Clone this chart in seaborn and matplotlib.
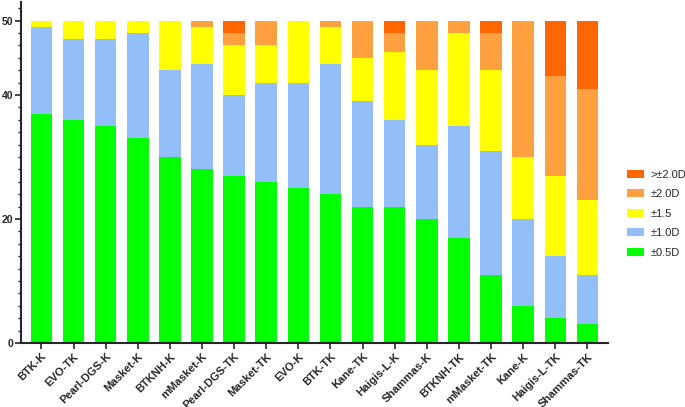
import pandas as pd
import numpy as np
import matplotlib
matplotlib.use("Agg")
import matplotlib.pyplot as plt
from matplotlib.patches import Patch
from matplotlib.ticker import MultipleLocator
import seaborn as sns

# formulas, in the order shown
formulas = ['BTK-K', 'EVO-TK', 'Pearl-DGS-K', 'Masket-K', 'BTKNH-K', 'mMasket-K',
            'Pearl-DGS-TK', 'Masket-TK', 'EVO-K', 'BTK-TK', 'Kane-TK', 'Haigis-L-K',
            'Shammas-K', 'BTKNH-TK', 'mMasket-TK', 'Kane-K', 'Haigis-L-TK', 'Shammas-TK']

# counts per error band
d05 = [37, 36, 35, 33, 30, 28, 27, 26, 25, 24, 22, 22, 20, 17, 11, 6, 4, 3]
d10 = [14, 13, 14, 17, 14, 17, 13, 16, 17, 21, 17, 14, 12, 18, 20, 14, 10, 8]
d15 = [1, 3, 3, 2, 8, 6, 8, 6, 10, 6, 7, 11, 12, 15, 13, 10, 13, 12]
d20 = [0, 0, 0, 0, 0, 1, 2, 4, 0, 1, 6, 3, 8, 2, 6, 22, 16, 18]
dgt20 = [0, 0, 0, 0, 0, 0, 2, 0, 0, 0, 0, 2, 0, 0, 2, 0, 9, 11]

series = ['±0.5D', '±1.0D', '±1.5', '±2.0D', '>±2.0D']
colors = ['#00ff00', '#92bff9', '#ffff00', '#ffa040', '#ff6600']

df = pd.DataFrame({'formula': formulas, '±0.5D': d05, '±1.0D': d10,
                   '±1.5': d15, '±2.0D': d20, '>±2.0D': dgt20})
cum = df[series].cumsum(axis=1)
cum['formula'] = df['formula']

sns.set_style("ticks")
plt.rcParams['font.family'] = ['Liberation Sans', 'DejaVu Sans']

fig = plt.figure(figsize=(6.85, 4.07), dpi=100)
ax = fig.add_axes([0.03, 0.157, 0.858, 0.838])

# stacked bars: draw the tallest cumulative first
for s, c in reversed(list(zip(series, colors))):
    sns.barplot(data=cum, x='formula', y=s, color=c, width=0.67,
                edgecolor='none', linewidth=0, saturation=1, ax=ax)

ax.set_xlim(-0.65, len(formulas) - 0.35)
ax.set_ylim(0, 55)
ax.set_yticks([0, 20, 40, 52])
ax.set_yticklabels(['0', '20', '40', '50'], fontweight='bold', fontsize=7.5)
ax.yaxis.set_minor_locator(MultipleLocator(2))
ax.tick_params(axis='y', which='major', length=4, width=1.2, pad=1.5)
ax.tick_params(axis='y', which='minor', length=2.5, width=1.0)
ax.tick_params(axis='x', length=4, width=1.2, pad=2)
ax.set_xticks(range(len(formulas)))
ax.set_xticklabels(formulas, rotation=45, ha='right', rotation_mode='anchor',
                   fontweight='bold', fontsize=8)
ax.set_xlabel('')
ax.set_ylabel('')
for sp in ['left', 'bottom']:
    ax.spines[sp].set_linewidth(1.5)
sns.despine(ax=ax)

handles = [Patch(facecolor=c, edgecolor='none', label=s)
           for s, c in reversed(list(zip(series, colors)))]
fig.legend(handles=handles, loc='center left', bbox_to_anchor=(0.9, 0.475),
           frameon=False, fontsize=8, handlelength=1.6, handleheight=0.7,
           labelspacing=0.85, handletextpad=0.6)

fig.savefig('out.png', dpi=100)
